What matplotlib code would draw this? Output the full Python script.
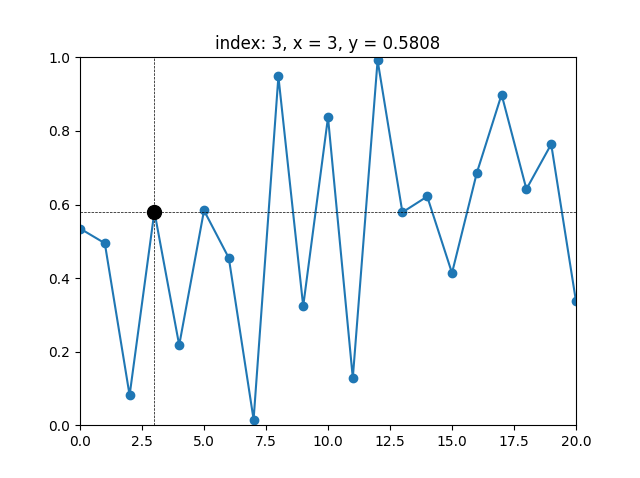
import numpy as np
import matplotlib
matplotlib.use("Agg")
import matplotlib.pyplot as plt

# values
x = list(range(21))
y = [0.535, 0.495, 0.082, 0.5808, 0.218, 0.584, 0.455, 0.016, 0.948, 0.324,
     0.837, 0.129, 0.992, 0.579, 0.622, 0.414, 0.686, 0.899, 0.642, 0.764, 0.337]

sel = 3

fig, ax = plt.subplots(figsize=(6.4, 4.78))
ax.plot(x, y, 'o-')
ax.set_xlim(0, 20)
ax.set_ylim(0, 1)

# snapping cross-hair
ax.axhline(y[sel], color='k', lw=0.5, ls='--')
ax.axvline(x[sel], color='k', lw=0.5, ls='--')
ax.plot(x[sel], y[sel], 'o', color='k', ms=10)
ax.set_title(f"index: {sel}, x = {x[sel]}, y = {y[sel]:1.4f}")

fig.savefig("out.png", dpi=100)
